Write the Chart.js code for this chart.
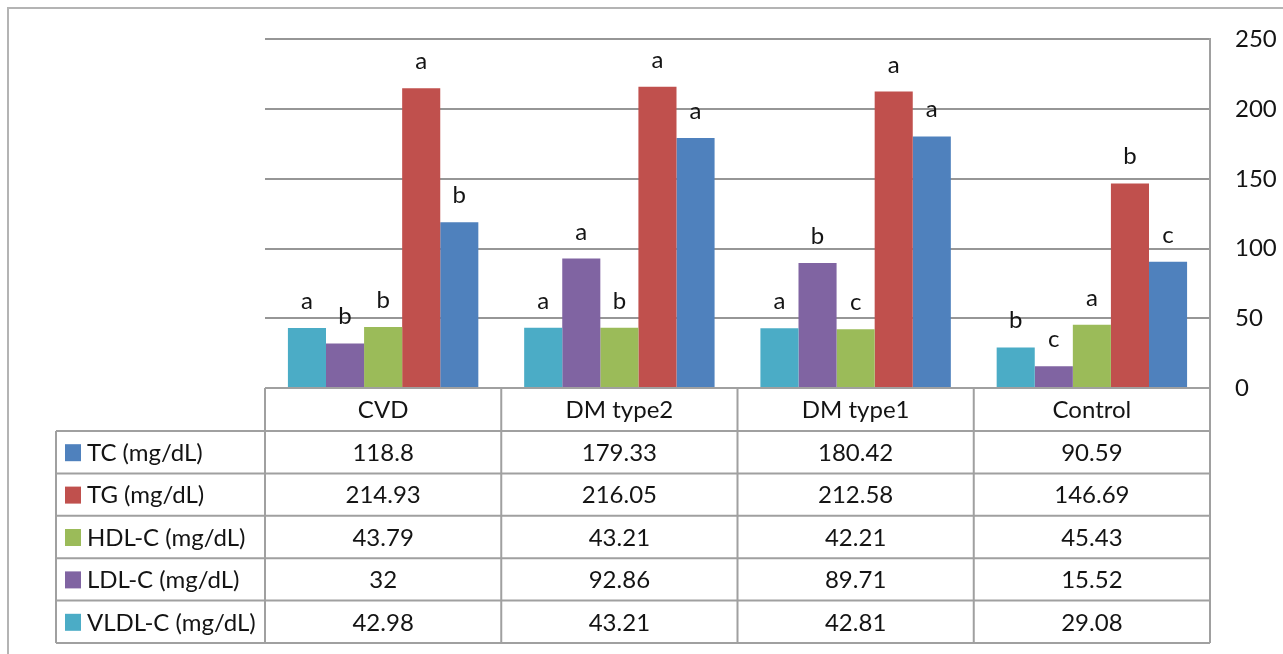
<!DOCTYPE html>
<html>
<head>
<meta charset="utf-8">
<script src="https://cdn.jsdelivr.net/npm/chart.js@4.4.1/dist/chart.umd.min.js"></script>
<style>
  html, body { margin: 0; padding: 0; background: #fff; }
  #wrap { width: 1283px; height: 654px; position: relative; }
</style>
</head>
<body>
<div id="wrap"><canvas id="c" width="1283" height="654"></canvas></div>
<script>
// ---- data ----
const categories = ['CVD', 'DM type2', 'DM type1', 'Control'];
const seriesNames = ['VLDL-C (mg/dL)', 'LDL-C (mg/dL)', 'HDL-C (mg/dL)', 'TG (mg/dL)', 'TC (mg/dL)'];
const vldl = [42.98, 43.21, 42.81, 29.08];
const ldl  = [32, 92.86, 89.71, 15.52];
const hdl  = [43.79, 43.21, 42.21, 45.43];
const tg   = [214.93, 216.05, 212.58, 146.69];
const tc   = [118.8, 179.33, 180.42, 90.59];
const vldlLetters = ['a', 'a', 'a', 'b'];
const ldlLetters  = ['b', 'a', 'b', 'c'];
const hdlLetters  = ['b', 'b', 'c', 'a'];
const tgLetters   = ['a', 'a', 'a', 'b'];
const tcLetters   = ['b', 'a', 'a', 'c'];
const yTicks = [0, 50, 100, 150, 200, 250];
// table display strings (as printed in the data table)
const tcText   = ['118.8', '179.33', '180.42', '90.59'];
const tgText   = ['214.93', '216.05', '212.58', '146.69'];
const hdlText  = ['43.79', '43.21', '42.21', '45.43'];
const ldlText  = ['32', '92.86', '89.71', '15.52'];
const vldlText = ['42.98', '43.21', '42.81', '29.08'];

const colors = ['#4BACC6', '#8064A2', '#9BBB59', '#C0504D', '#4F81BD'];
const FONT = 'Lato, "Open Sans", sans-serif';
const TEXT = '#141414';
const LINE = '#a0a0a0';

const seriesValues = [vldl, ldl, hdl, tg, tc];
const seriesLetters = [vldlLetters, ldlLetters, hdlLetters, tgLetters, tcLetters];

// table rows, top to bottom
const tableRows = [
  { name: seriesNames[4], color: colors[4], vals: tcText },
  { name: seriesNames[3], color: colors[3], vals: tgText },
  { name: seriesNames[2], color: colors[2], vals: hdlText },
  { name: seriesNames[1], color: colors[1], vals: ldlText },
  { name: seriesNames[0], color: colors[0], vals: vldlText },
];

const framePlugin = {
  id: 'frame',
  beforeDraw(chart) {
    const ctx = chart.ctx;
    ctx.save();
    ctx.fillStyle = '#fff';
    ctx.fillRect(0, 0, chart.width, chart.height);
    ctx.strokeStyle = '#b4b4b4';
    ctx.lineWidth = 2;
    ctx.strokeRect(8, 8, chart.width + 50, chart.height + 50);
    ctx.restore();
  }
};

const lettersPlugin = {
  id: 'letters',
  afterDatasetsDraw(chart) {
    const ctx = chart.ctx;
    ctx.save();
    ctx.font = '24px ' + FONT;
    ctx.fillStyle = TEXT;
    ctx.textAlign = 'center';
    ctx.textBaseline = 'alphabetic';
    chart.data.datasets.forEach((ds, i) => {
      const meta = chart.getDatasetMeta(i);
      meta.data.forEach((el, j) => {
        ctx.fillText(seriesLetters[i][j], el.x, el.y - 19);
      });
    });
    ctx.restore();
  }
};

const tablePlugin = {
  id: 'datatable',
  afterDraw(chart) {
    const ctx = chart.ctx;
    const xs = chart.scales.x;
    const left = xs.left, right = xs.right;
    const colW = (right - left) / categories.length;
    const top = chart.chartArea.bottom;
    const headBottom = 431;
    const tableLeft = 56;
    const tableBottom = 643;
    const rowH = (tableBottom - headBottom) / tableRows.length;

    ctx.save();
    ctx.strokeStyle = LINE;
    ctx.lineWidth = 2;
    ctx.beginPath();
    ctx.moveTo(left, top); ctx.lineTo(right, top);
    for (let r = 0; r <= tableRows.length; r++) {
      const y = headBottom + r * rowH;
      ctx.moveTo(tableLeft, y); ctx.lineTo(right, y);
    }
    ctx.moveTo(tableLeft, headBottom); ctx.lineTo(tableLeft, tableBottom);
    for (let k = 0; k <= categories.length; k++) {
      const x = left + k * colW;
      ctx.moveTo(x, top); ctx.lineTo(x, tableBottom);
    }
    ctx.stroke();

    ctx.fillStyle = TEXT;
    ctx.font = '24px ' + FONT;
    ctx.textAlign = 'center';
    ctx.textBaseline = 'middle';
    categories.forEach((c, i) => {
      ctx.fillText(c, xs.getPixelForValue(i), (top + headBottom) / 2 + 1);
    });
    tableRows.forEach((row, r) => {
      const cy = headBottom + (r + 0.5) * rowH + 1;
      row.vals.forEach((v, i) => {
        ctx.fillStyle = TEXT;
        ctx.textAlign = 'center';
        ctx.fillText(v, xs.getPixelForValue(i), cy);
      });
      ctx.fillStyle = row.color;
      ctx.fillRect(65, cy - 9, 16, 17);
      ctx.fillStyle = TEXT;
      ctx.textAlign = 'left';
      ctx.fillText(row.name, 87, cy);
    });
    ctx.restore();
  }
};

new Chart(document.getElementById('c'), {
  type: 'bar',
  data: {
    labels: categories,
    datasets: seriesNames.map((n, i) => ({
      label: n,
      data: seriesValues[i],
      backgroundColor: colors[i],
      borderWidth: 0,
      categoryPercentage: 0.806,
      barPercentage: 1.0
    }))
  },
  options: {
    responsive: false,
    devicePixelRatio: 1,
    animation: false,
    layout: { padding: { left: 265, top: 38, right: 0, bottom: 266 } },
    plugins: {
      legend: { display: false },
      tooltip: { enabled: false },
      title: { display: false }
    },
    scales: {
      x: {
        display: false
      },
      y: {
        position: 'right',
        min: 0,
        max: 250,
        afterBuildTicks(scale) { scale.ticks = yTicks.map(v => ({ value: v })); },
        afterFit(scale) { scale.width = 73; },
        ticks: {
          font: { family: FONT, size: 24 },
          color: TEXT,
          padding: 25
        },
        grid: { color: '#969696', lineWidth: 2, drawTicks: false },
        border: { display: true, color: LINE, width: 2 }
      }
    }
  },
  plugins: [framePlugin, lettersPlugin, tablePlugin]
});
</script>
</body>
</html>
